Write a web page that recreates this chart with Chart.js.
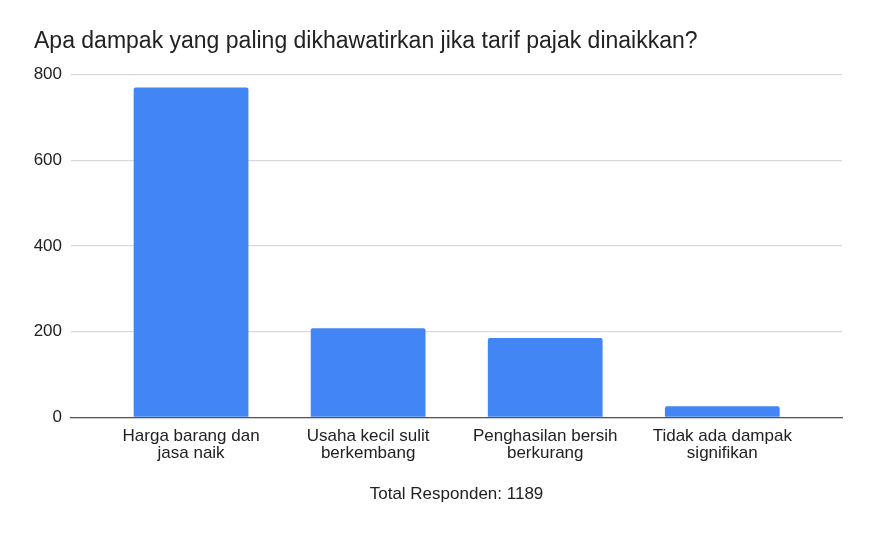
<!DOCTYPE html>
<html>
<head>
<meta charset="utf-8">
<script src="https://cdn.jsdelivr.net/npm/chart.js@4/dist/chart.umd.min.js"></script>
<style>
  html, body { margin: 0; padding: 0; background: #fff; }
  #wrap { width: 886px; height: 533px; position: relative; }
</style>
</head>
<body>
<div id="wrap"><canvas id="chart"></canvas></div>
<script>
const titleText = "Apa dampak yang paling dikhawatirkan jika tarif pajak dinaikkan?";
const categories = [
  ["Harga barang dan", "jasa naik"],
  ["Usaha kecil sulit", "berkembang"],
  ["Penghasilan bersih", "berkurang"],
  ["Tidak ada dampak", "signifikan"],
];
const responses = [770, 208, 185, 26];
const yTicks = [0, 200, 400, 600, 800];
const footerText = "Total Responden: 1189";

const FONT = "Arial, 'Liberation Sans', sans-serif";

const ctx = document.getElementById("chart");
new Chart(ctx, {
  type: "bar",
  data: {
    datasets: [
      {
        label: "Responden",
        data: responses.map((v, i) => ({ x: i, y: v })),
        backgroundColor: "#4285f4",
        borderWidth: 0,
        borderRadius: { topLeft: 2, topRight: 2 },
        borderSkipped: "bottom",
        barPercentage: 0.648,
        categoryPercentage: 1,
      },
    ],
  },
  options: {
    responsive: true,
    maintainAspectRatio: false,
    animation: false,
    devicePixelRatio: 1,
    layout: { padding: { left: 34, right: 44, top: 0, bottom: 0 } },
    plugins: {
      legend: { display: false },
      tooltip: { enabled: false },
      title: {
        display: true,
        text: titleText,
        align: "start",
        color: "#222",
        font: { family: FONT, size: 23, weight: "normal" },
        padding: { top: 28, bottom: 19 },
      },
    },
    scales: {
      x: {
        type: "linear",
        offset: false,
        min: -0.678,
        max: 3.676,
        grid: { display: false, drawTicks: false },
        border: { display: true, color: "#555", width: 1.3 },
        afterBuildTicks: (axis) => {
          axis.ticks = categories.map((c, i) => ({ value: i }));
        },
        afterFit: (axis) => {
          axis.height = 115.7;
        },
        ticks: {
          autoSkip: false,
          maxRotation: 0,
          padding: 10.5,
          color: "#222",
          font: { family: FONT, size: 17, lineHeight: 1.0 },
          callback: (val) => categories[val] || "",
        },
        title: {
          display: true,
          text: footerText,
          color: "#222",
          font: { family: FONT, size: 17, lineHeight: 1.2 },
          padding: { top: 0, bottom: 28 },
        },
      },
      y: {
        min: 0,
        max: 800,
        afterBuildTicks: (axis) => {
          axis.ticks = yTicks.map((v) => ({ value: v }));
        },
        afterFit: (axis) => {
          axis.width = 37;
        },
        grid: { color: "#d9d9d9", lineWidth: 1.3, drawTicks: false },
        border: { display: false },
        ticks: {
          padding: 9,
          color: "#222",
          font: { family: FONT, size: 17 },
        },
      },
    },
  },
});
</script>
</body>
</html>
